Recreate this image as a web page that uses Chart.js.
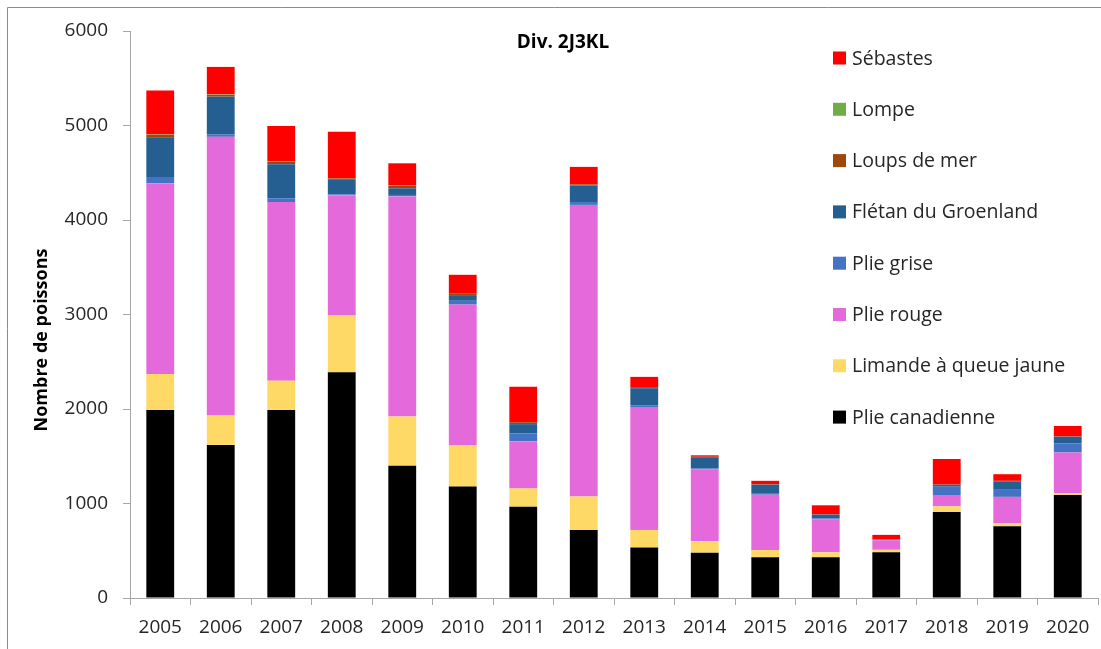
<!DOCTYPE html>
<html lang="fr">
<head>
<meta charset="utf-8">
<title>Div. 2J3KL</title>
<script src="https://cdn.jsdelivr.net/npm/chart.js@4/dist/chart.umd.min.js"></script>
<style>
  html, body { margin: 0; padding: 0; background: #fff; }
  #wrap { width: 1101px; height: 649px; position: relative; }
</style>
</head>
<body>
<div id="wrap"><canvas id="c" width="1101" height="649"></canvas></div>
<script>
// Années de relevé
const years = ['2005','2006','2007','2008','2009','2010','2011','2012','2013','2014','2015','2016','2017','2018','2019','2020'];

// Nombre de poissons par espèce (empilés de bas en haut)
const plieCanadienne = [1990, 1620, 1990, 2390, 1400, 1180, 965, 720, 535, 480, 430, 430, 485, 910, 760, 1090];
const limande        = [ 380,  310,  310,  600,  520,  435, 195, 355, 185, 120,  78,  53,  25,  60,  30,   20];
const plieRouge      = [2020, 2950, 1890, 1270, 2330, 1490, 500, 3085, 1300, 760, 585, 350, 100, 120, 280, 430];
const plieGrise      = [  65,   25,   40,   10,   15,   40,  80,  30,  20,  10,  10,  10,   5,  88,  75,   95];
const fletan         = [ 420,  400,  360,  155,   70,   60, 100, 175, 180, 120,  96,  40,   5,  20,  90,   72];
const loupsDeMer     = [  25,   20,   25,   15,   30,   15,  20,  12,  12,   5,   5,   2,   3,   3,   5,    3];
const lompe          = [   5,    5,   10,    3,    5,    0,   0,   0,   0,   0,   0,   0,   0,   0,   0,    0];
const sebastes       = [ 465,  290,  370,  490,  230,  200, 375, 185, 108,  15,  36,  96,  45, 270,  70,  110];

// Graduations de l'axe des ordonnées
const yTicks = [0, 1000, 2000, 3000, 4000, 5000, 6000];

const seriesNames  = ['Plie canadienne', 'Limande à queue jaune', 'Plie rouge', 'Plie grise', 'Flétan du Groenland', 'Loups de mer', 'Lompe', 'Sébastes'];
const seriesValues = [plieCanadienne, limande, plieRouge, plieGrise, fletan, loupsDeMer, lompe, sebastes];
const seriesColors = ['#000000', '#FFD966', '#E469DA', '#4472C4', '#255E91', '#9E480E', '#70AD47', '#FF0000'];

const FONT = "'Open Sans', 'Liberation Sans', sans-serif";
const AXIS_GREY = '#a6a6a6';

// Cadre, titre, titre d'axe et légende dessinés sur le canevas
const decorations = {
  id: 'decorations',
  afterDraw(chart) {
    const ctx = chart.ctx;
    ctx.save();
    // cadre extérieur
    ctx.strokeStyle = '#8c8c8c';
    ctx.lineWidth = 1;
    ctx.beginPath();
    ctx.moveTo(7.5, 700);
    ctx.lineTo(7.5, 7.5);
    ctx.lineTo(1200, 7.5);
    ctx.stroke();

    // titre
    ctx.fillStyle = '#000';
    ctx.font = "bold 19px " + FONT;
    ctx.textAlign = 'center';
    ctx.textBaseline = 'middle';
    ctx.fillText('Div. 2J3KL', 563, 43);

    // titre de l'axe des ordonnées
    ctx.save();
    ctx.translate(42, 340);
    ctx.rotate(-Math.PI / 2);
    ctx.font = "bold 18px " + FONT;
    ctx.fillText('Nombre de poissons', 0, 0);
    ctx.restore();

    // légende (ordre inverse de l'empilement)
    const ds = chart.data.datasets.slice().reverse();
    ctx.font = "19.5px " + FONT;
    ctx.textAlign = 'left';
    ds.forEach((d, i) => {
      const cy = 58 + i * 51.3;
      ctx.fillStyle = d.backgroundColor;
      ctx.fillRect(833, cy - 6.5, 13, 13);
      ctx.fillStyle = '#262626';
      ctx.fillText(d.label, 852, cy + 1);
    });
    ctx.restore();
  }
};

new Chart(document.getElementById('c'), {
  type: 'bar',
  data: {
    labels: years,
    datasets: seriesNames.map((name, i) => ({
      label: name,
      data: seriesValues[i],
      backgroundColor: seriesColors[i],
      borderWidth: 0,
      categoryPercentage: 1.0,
      barPercentage: 0.46
    }))
  },
  options: {
    responsive: false,
    animation: false,
    devicePixelRatio: 1,
    layout: { padding: { left: 0, right: 3, top: 31, bottom: 0 } },
    plugins: {
      legend: { display: false },
      title: { display: false },
      tooltip: { enabled: false }
    },
    scales: {
      x: {
        stacked: true,
        offset: true,
        grid: {
          offset: true,
          drawOnChartArea: false,
          drawTicks: true,
          tickLength: 7,
          color: AXIS_GREY
        },
        border: { display: true, color: AXIS_GREY },
        ticks: {
          font: { family: FONT, size: 19 },
          color: '#262626',
          padding: 11,
          maxRotation: 0
        },
        afterFit(scale) { scale.height = 51; }
      },
      y: {
        stacked: true,
        min: yTicks[0],
        max: yTicks[yTicks.length - 1],
        afterBuildTicks(scale) { scale.ticks = yTicks.map(v => ({ value: v })); },
        grid: {
          drawOnChartArea: false,
          drawTicks: true,
          tickLength: 7,
          color: AXIS_GREY
        },
        border: { display: true, color: AXIS_GREY },
        ticks: {
          font: { family: FONT, size: 19 },
          color: '#262626',
          padding: 15,
          callback: (v) => String(v)
        },
        afterFit(scale) { scale.width = 130; }
      }
    }
  },
  plugins: [decorations]
});
</script>
</body>
</html>
